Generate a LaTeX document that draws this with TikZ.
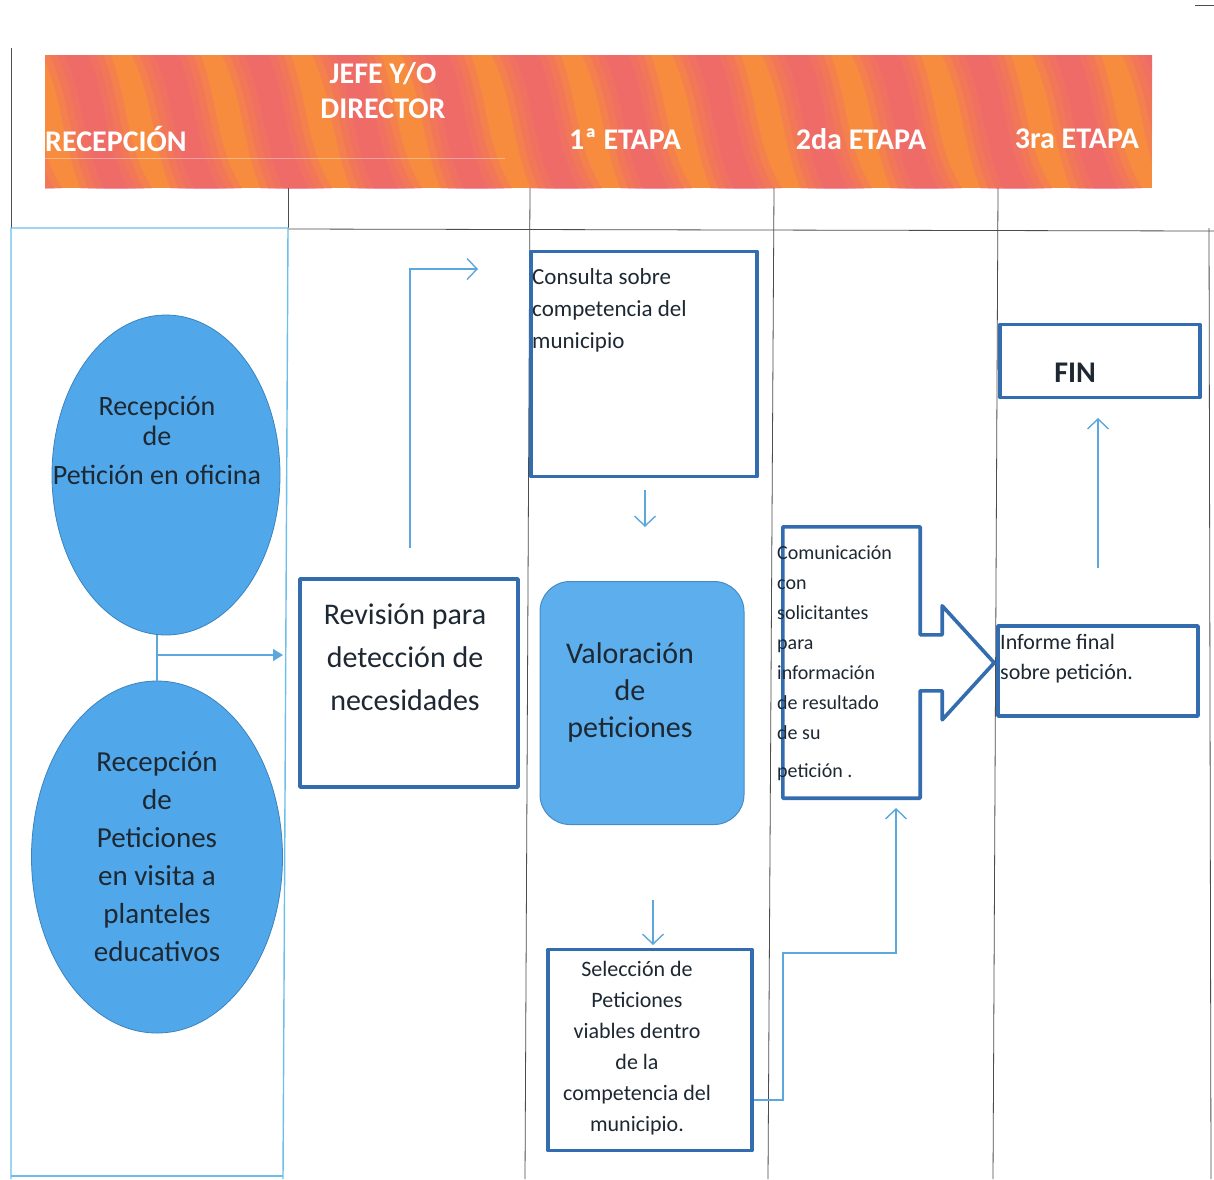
\documentclass[tikz,border=0pt]{standalone}
\usepackage{fontspec}
\setmainfont{Carlito}
\usepackage{tikz}
\usetikzlibrary{arrows.meta,positioning,calc,shapes.geometric}

\definecolor{naranja}{RGB}{247,140,62}
\definecolor{rosa}{RGB}{238,94,124}
\definecolor{elipse}{RGB}{80,168,234}
\definecolor{elipseborde}{RGB}{60,130,190}
\definecolor{valfill}{RGB}{92,174,236}
\definecolor{valborde}{RGB}{70,140,200}
\definecolor{cajaborde}{RGB}{52,108,176}
\definecolor{flujo}{RGB}{92,168,220}
\definecolor{laneblue}{RGB}{110,190,234}
\definecolor{texto}{RGB}{30,40,50}

\begin{document}
\begin{tikzpicture}[x=1pt,y=-1pt,
	lane/.style={draw=gray!60!black, line width=0.8pt},
	lanebl/.style={draw=laneblue, line width=1.4pt},
	caja/.style={draw=cajaborde, line width=3.6pt, line join=round, inner sep=0pt},
	burbuja/.style={ellipse, draw=elipseborde, line width=0.8pt, fill=elipse, inner sep=0pt},
	flecha/.style={draw=flujo, line width=1.4pt, -{Straight Barb[length=10pt,width=21pt]}},
	linea/.style={draw=flujo, line width=1.3pt},
	titulo/.style={text=white, font=\bfseries\fontsize{30}{35}\selectfont, align=center, inner sep=0pt},
	grande/.style={text=texto, font=\fontsize{29}{38}\selectfont, align=center, inner sep=0pt},
	chico/.style={text=texto, font=\fontsize{22}{31}\selectfont, inner sep=0pt}]
			%\draw [help lines] (0,0) grid (1214,1179);
			\useasboundingbox (0,0) rectangle (1214,1179);
			\fill[white] (0,0) rectangle (1214,1179);

			% cabecera
			\begin{scope}
				\clip (45,55) rectangle (1152,188);
				\fill[naranja] (45,55) rectangle (1152,188);
				\foreach \x in {-20,70,...,1200} {
					\foreach \w in {64,50,36,22} {
						\draw[rosa, line width=\w pt, opacity=0.25] (\x,40) .. controls (\x+30,100) and (\x+20,150) .. (\x+55,205);
					}
				}
				\draw[white, opacity=0.35, line width=0.6pt] (45,158) -- (505,158);
			\end{scope}
			\node[titulo, anchor=west] (hrec) at (45,139) {RECEPCIÓN};
			\node[titulo] (hjefe) at (383,91) {JEFE Y/O\\DIRECTOR};
			\node[titulo] (hpri) at (625,139) {1ª ETAPA};
			\node[titulo] (hseg) at (861,139) {2da ETAPA};
			\node[titulo] (hter) at (1077,139) {3ra ETAPA};

			% carriles
			\draw[lane] (11,48) -- (11,228);
			\draw[lane] (288,188) -- (288,228);
			\draw[lane] (530,188) -- (525,1179);
			\draw[lane] (774,188) -- (768,1179);
			\draw[lane] (998,188) -- (993,1179);
			\draw[lane] (288,229) -- (1214,231);
			\draw[lane] (1209,228) -- (1211,1179);
			\draw[lane] (1195,5) -- (1214,5);
			\draw[lanebl] (11,1179) -- (11,228) -- (288,228) -- (283,1179);
			\draw[lanebl] (11,1176) -- (283,1176);

			% recepcion
			\node[burbuja, minimum width=228, minimum height=320] (ofic) at (166,475) {};
			\node[grande, font=\fontsize{28}{30}\selectfont] (tofic) at (157,440) {Recepción\\de\\[9pt]Petición en oficina};
			\node[burbuja, grande, minimum width=251, minimum height=352] (visita) at (157,857) {Recepción\\de\\Peticiones\\en visita a\\planteles\\educativos};
			\coordinate (e1) at (283,655);
			\draw[linea] (visita.north |- ofic.south) -- (visita.north);
			\draw[linea, -{Triangle[length=10pt,width=12pt]}] (visita.north |- e1) -- (e1);

			% jefe
			\node[caja, minimum width=218, minimum height=208] (rev) at (409,683) {};
			\node[grande, font=\fontsize{30}{43}\selectfont] (trev) at (405,657) {Revisión para\\detección de\\necesidades};
			\coordinate (r1) at (410,548);
			\coordinate (r2) at (478,269);
			\draw[flecha] (r1) |- (r2);

			% 1a etapa
			\node[caja, minimum width=226, minimum height=225] (cons) at (644,364) {};
			\node[chico, anchor=north west, align=left, font=\fontsize{23}{32}\selectfont] (tcons) at (532,268) {Consulta sobre\\competencia del\\municipio};
			\node[draw=valborde, fill=valfill, line width=1pt, rounded corners=30pt, minimum width=204, minimum height=243] (val) at (642,703) {};
			\node[grande, font=\fontsize{30}{37}\selectfont] (tval) at (630,692) {Valoración\\de\\peticiones};
			\node[caja, minimum width=204, minimum height=201] (sel) at (650,1050) {};
			\node[chico, align=center] (tsel) at (637,1048) {Selección de\\Peticiones\\viables dentro\\de la\\competencia del\\municipio.};
			\coordinate (c1) at (645,490);
			\coordinate (c2) at (645,527);
			\draw[flecha] (c1) -- (c2);
			\coordinate (v1) at (653,900);
			\coordinate (v2) at (653,945);
			\draw[flecha] (v1) -- (v2);

			% 2da etapa
			\node[inner sep=0pt, minimum width=137, minimum height=271] (com) at (851.5,662.5) {};
			\draw[caja] (com.north west) -- (com.north east) -- ++(0,108) -- ++(22,0) -- ++(0,-29) -- ++(52,57) -- ++(-52,57) -- ++(0,-29) -- ++(-22,0) |- (com.south west) -- cycle;
			\node[chico, anchor=north west, align=left, font=\fontsize{20}{30}\selectfont] (tcom) at (777,546) {Comunicación\\con\\solicitantes\\para\\información\\de resultado\\de su\\[8pt]petición .};
			\coordinate (s1) at (783,953);
			\coordinate (s2) at (896,808);
			\draw[flecha] ($(sel.east)+(0,50)$) -| (s1) -| (s2);

			% 3ra etapa
			\node[caja, minimum width=200, minimum height=90] (inf) at (1098,671) {};
			\node[chico, anchor=north west, align=left, font=\fontsize{22}{30}\selectfont] (tinf) at (1000,634) {Informe final\\sobre petición.};
			\node[caja, minimum width=200, minimum height=73] (fin) at (1100,361) {};
			\node[text=texto, font=\bfseries\fontsize{30}{36}\selectfont] (tfin) at (1075,373) {FIN};
			\coordinate (i1) at (1098,568);
			\coordinate (i2) at (1098,418);
			\draw[flecha] (i1) -- (i2);
\end{tikzpicture}
\end{document}
